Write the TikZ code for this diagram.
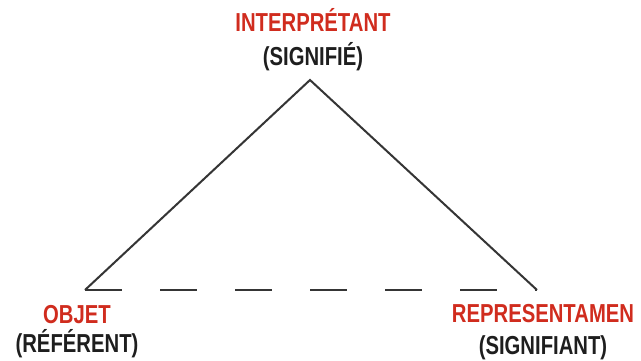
\documentclass[tikz,border=0pt]{standalone}
\usepackage{fontspec}
\usepackage{xcolor}
\usepackage{tikz}
\usetikzlibrary{positioning}

\newfontfamily\semfont[FakeStretch=0.78]{Liberation Sans}
\definecolor{semred}{RGB}{208,44,30}
\definecolor{semink}{RGB}{30,30,30}

\begin{document}
\begin{tikzpicture}[x=1pt,y=-1pt,node distance=13pt,
  every node/.style={inner sep=0pt,font=\semfont\bfseries\fontsize{26}{30}\selectfont},
  redlabel/.style={text=semred,text height=19pt,text depth=0pt},
  blacklabel/.style={text=semink,text height=19pt,text depth=5pt},
  side/.style={draw=semink!90,line width=2pt},
  base/.style={side,dash pattern=on 37pt off 38pt}]
  \useasboundingbox (0,0) rectangle (641,361);
  % corners of the triangle
  \coordinate (apex) at (310,80);
  \coordinate (left) at (85,290);
  \coordinate (right) at (537,290);
  % labels: top, then bottom left, then bottom right
  \node[redlabel] (interp) at (313,22) {INTERPRÉTANT};
  \node[blacklabel] (signifie) [below=15pt of interp] {(SIGNIFIÉ)};
  \node[redlabel] (objet) at (77,314) {OBJET};
  \node[blacklabel] (referent) [below=10pt of objet] {(RÉFÉRENT)};
  \node[redlabel] (repr) at (543,313) {REPRESENTAMEN};
  \node[blacklabel] (signifiant) [below=of repr] {(SIGNIFIANT)};

  \draw[side] (left) -- (apex) -- (right);
  \draw[base] (left) -- (right);
\end{tikzpicture}
\end{document}
